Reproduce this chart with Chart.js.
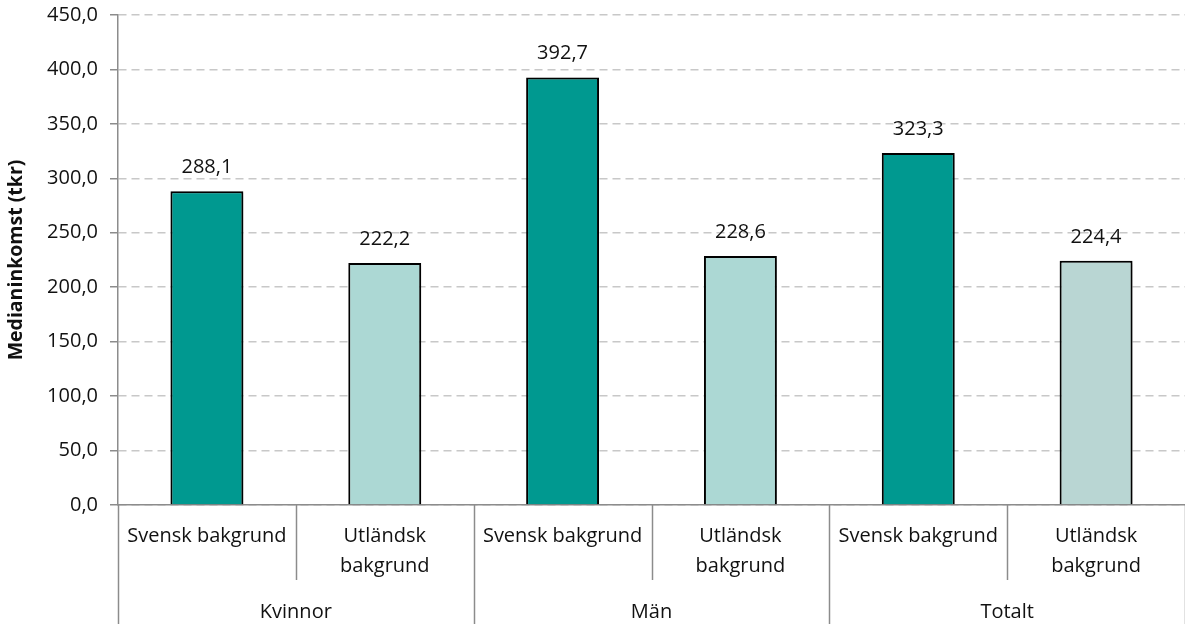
<!doctype html>
<html lang="sv">
<head>
<meta charset="UTF-8" />
<title>Medianinkomst</title>
<style>
  html, body { margin: 0; padding: 0; background: #fff; }
  #wrap { width: 1185px; height: 624px; position: relative; }
</style>
</head>
<body>
<div id="wrap"><canvas id="chart"></canvas></div>
<script src="https://cdn.jsdelivr.net/npm/chart.js"></script>
<script>
const groups = ["Kvinnor", "Män", "Totalt"];
const subLabels = [
    ["Svensk bakgrund"], ["Utländsk", "bakgrund"],
    ["Svensk bakgrund"], ["Utländsk", "bakgrund"],
    ["Svensk bakgrund"], ["Utländsk", "bakgrund"],
];
const values = [288.1, 222.2, 392.7, 228.6, 323.3, 224.4];
const yTicks = [0, 50, 100, 150, 200, 250, 300, 350, 400, 450];

const FONT = "'Open Sans', sans-serif";
const barColors = ["#009990", "#acd8d4", "#009990", "#acd8d4", "#009990", "#b9d6d3"];
const fmt = v => v.toFixed(1).replace(".", ",");

// bar shadow + value labels + two-level category axis
const decor = {
    id: "decor",
    beforeDatasetsDraw(chart) {
        const ctx = chart.ctx;
        ctx.save();
        ctx.shadowColor = "rgba(0,0,0,0.3)";
        ctx.shadowBlur = 4;
        ctx.shadowOffsetX = 1.5;
        ctx.shadowOffsetY = 1.5;
    },
    afterDatasetsDraw(chart) {
        const ctx = chart.ctx;
        ctx.restore();
        const meta = chart.getDatasetMeta(0);
        ctx.save();
        ctx.font = "20px " + FONT;
        ctx.fillStyle = "#111";
        ctx.textAlign = "center";
        ctx.textBaseline = "alphabetic";
        meta.data.forEach((bar, i) => {
            ctx.fillText(fmt(values[i]), bar.x, bar.y - 18);
        });
        ctx.restore();
    },
    afterDraw(chart) {
        const ctx = chart.ctx;
        const x = chart.scales.x;
        const area = chart.chartArea;
        const step = x.getPixelForValue(1) - x.getPixelForValue(0);
        ctx.save();
        ctx.strokeStyle = "#8c8c8c";
        ctx.lineWidth = 1.5;
        for (let i = 0; i <= subLabels.length; i++) {
            const px = Math.round(x.getPixelForValue(i) - step / 2) + 0.5;
            const end = i % 2 === 0 ? chart.height : area.bottom + 75;
            ctx.beginPath();
            ctx.moveTo(px, area.bottom);
            ctx.lineTo(px, end);
            ctx.stroke();
        }
        ctx.font = "20px " + FONT;
        ctx.fillStyle = "#111";
        ctx.textAlign = "center";
        ctx.textBaseline = "alphabetic";
        subLabels.forEach((lines, i) => {
            const px = x.getPixelForValue(i);
            lines.forEach((t, j) => ctx.fillText(t, px, area.bottom + 37 + j * 30));
        });
        groups.forEach((g, k) => {
            const px = (x.getPixelForValue(2 * k) + x.getPixelForValue(2 * k + 1)) / 2;
            ctx.fillText(g, px, area.bottom + 113);
        });
        ctx.restore();
    },
};

new Chart(document.getElementById("chart"), {
    type: "bar",
    data: {
        labels: subLabels.map(l => l.join(" ")),
        datasets: [{
            data: values,
            backgroundColor: barColors,
            borderColor: "#000",
            borderWidth: 2,
            barPercentage: 0.41,
            categoryPercentage: 1,
        }],
    },
    options: {
        responsive: true,
        maintainAspectRatio: false,
        animation: false,
        layout: { padding: { top: 15, right: 0, bottom: 0, left: 0 } },
        plugins: { legend: { display: false }, tooltip: { enabled: false } },
        scales: {
            x: {
                ticks: { display: false },
                grid: { display: false },
                border: { color: "#8c8c8c", width: 1.5 },
                afterFit: s => { s.height = 119; },
            },
            y: {
                min: 0,
                max: 450,
                afterBuildTicks: s => { s.ticks = yTicks.map(v => ({ value: v })); },
                ticks: {
                    color: "#111",
                    font: { family: FONT, size: 20 },
                    padding: 12,
                    callback: v => fmt(v),
                },
                grid: {
                    color: "#c8c8c8",
                    lineWidth: 1.5,
                    tickColor: "#8c8c8c",
                    tickLength: 8,
                },
                border: { color: "#8c8c8c", width: 1.5, dash: [8, 5] },
                title: {
                    display: true,
                    text: "Medianinkomst (tkr)",
                    color: "#111",
                    font: { family: FONT, size: 19.5, weight: "bold" },
                    padding: { top: 5, bottom: 0 },
                },
                afterFit: s => { s.width = 118; s.paddingTop = 0; s.paddingBottom = 0; },
            },
        },
    },
    plugins: [decor],
});
</script>
</body>
</html>
